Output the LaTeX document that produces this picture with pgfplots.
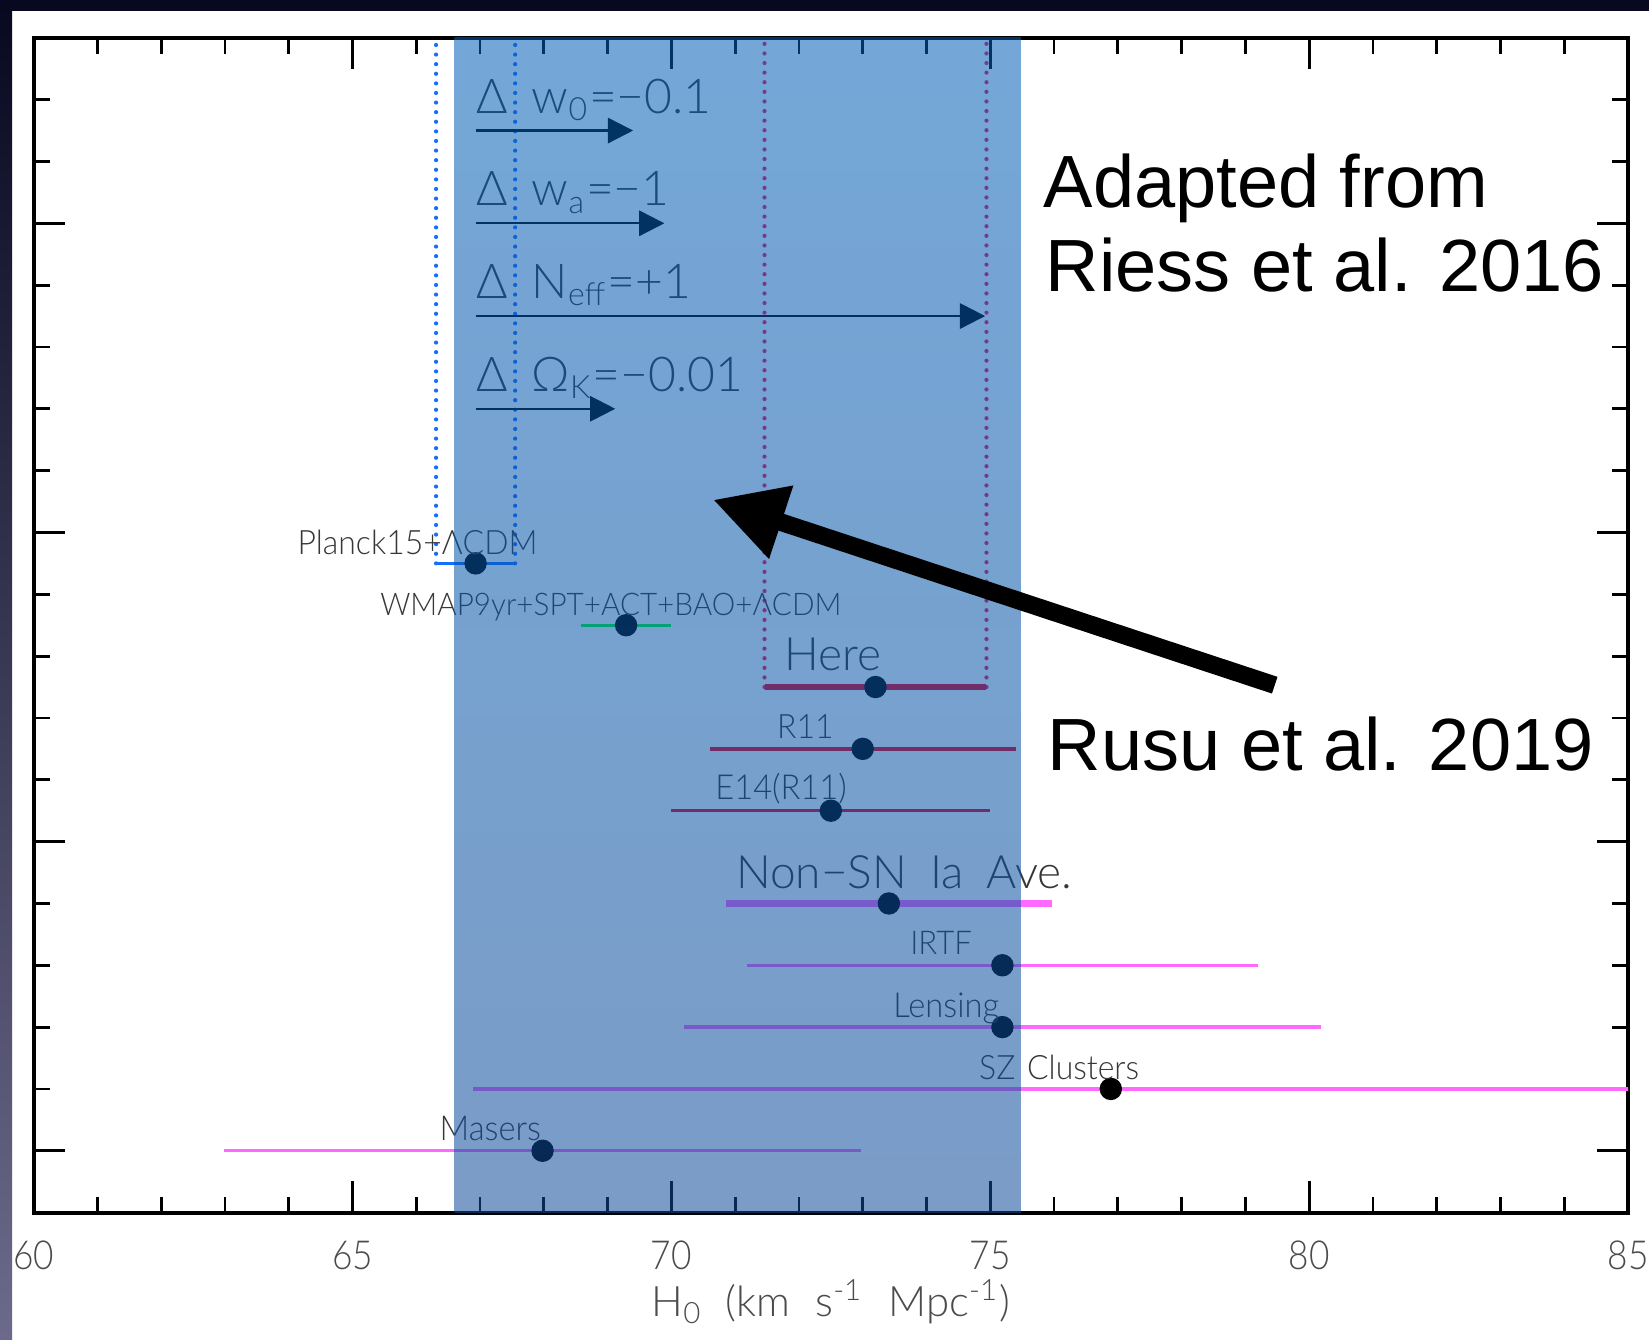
\documentclass[border=0pt]{standalone}
\usepackage{pgfplots}
\pgfplotsset{compat=1.18}
\usepackage{fontspec}
\usetikzlibrary{arrows.meta}
\setmainfont{Liberation Sans}
\newfontfamily\idl{Lato Light}[FakeStretch=0.88]
\newfontfamily\idls{Lato Light}[FakeStretch=0.95]
\newfontfamily\idlw{Lato Light}

\definecolor{labelgrey}{RGB}{55,55,55}
\definecolor{tickgrey}{RGB}{75,75,75}
\definecolor{bandtop}{RGB}{2,95,184}
\definecolor{bandbot}{RGB}{13,75,153}
\definecolor{pinkbar}{RGB}{255,105,255}
\definecolor{redbar}{RGB}{240,0,30}
\definecolor{reddot}{RGB}{255,20,80}
\definecolor{greenbar}{RGB}{0,255,50}
\definecolor{bluebar}{RGB}{20,110,255}
\definecolor{navytop}{RGB}{8,8,32}
\definecolor{navybot}{RGB}{108,106,138}

\newcommand\lab[1]{\idl\fontsize{#1}{#1}\selectfont}
\newcommand\labs[1]{\idls\fontsize{#1}{#1}\selectfont}
\newcommand\labw[1]{\idlw\fontsize{#1}{#1}\selectfont}

\begin{document}
\begin{tikzpicture}
\fill[white] (0,0) rectangle (412.25pt,334.75pt);

\begin{axis}[
  at={(8.41pt,31.6pt)}, anchor=south west,
  scale only axis, width=398.6pt, height=293.7pt,
  xmin=60, xmax=85, ymin=0, ymax=19,
  axis line style={line width=1pt, black},
  major tick length=7.8pt, minor tick length=4pt,
  every tick/.style={black, line width=0.7pt},
  tick align=inside,
  xtick={60,65,70,75,80,85},
  xticklabels={60,65,70,75,80,85},
  minor xtick={61,62,63,64,66,67,68,69,71,72,73,74,76,77,78,79,81,82,83,84},
  ytick={1,6,11,16}, yticklabels={},
  minor ytick={2,3,4,5,7,8,9,10,12,13,14,15,17,18},
  xticklabel style={font=\lab{10}, text=tickgrey, anchor=base, yshift=-14.2pt},
  xlabel={H\textsubscript{0}\hspace{0.55em}(km\hspace{0.6em}s\textsuperscript{-1}\hspace{0.6em}Mpc\textsuperscript{-1})},
  xlabel style={font=\labw{10.5}, text=tickgrey, at={(axis description cs:0.5,0)}, anchor=base, yshift=-26pt},
  clip=true, clip marker paths=true,
]

% dotted guides from the Planck and local bars up to the top
\pgfplotsset{guide/.style={line width=1.05pt, line cap=round, dash pattern=on 0pt off 2.4pt}}
\addplot[guide, bluebar] coordinates {(66.31,10.5) (66.31,19)};
\addplot[guide, bluebar] coordinates {(67.55,10.5) (67.55,19)};
\addplot[guide, reddot] coordinates {(71.46,8.5) (71.46,19)};
\addplot[guide, reddot] coordinates {(74.94,8.5) (74.94,19)};

% measurements with their uncertainties
\pgfplotsset{hpt/.style={only marks, mark=*, mark size=2.6pt,
  mark options={fill=black, draw=black},
  error bars/.cd, x dir=both, x explicit, error mark=none}}

\addplot[hpt, error bar style={line width=0.75pt, bluebar}]
  coordinates {(66.93,10.5) +- (0.62,0)};
\addplot[hpt, error bar style={line width=0.8pt, greenbar}]
  coordinates {(69.29,9.5) +- (0.70,0)};
\addplot[hpt, error bar style={line width=1.5pt, redbar}]
  coordinates {(73.20,8.5) +- (1.74,0)};
\addplot[hpt, error bar style={line width=0.85pt, redbar}]
  coordinates {(73.00,7.5) +- (2.40,0)};
\addplot[hpt, error bar style={line width=0.85pt, redbar}]
  coordinates {(72.50,6.5) +- (2.50,0)};
\addplot[hpt, error bar style={line width=1.6pt, pinkbar}]
  coordinates {(73.41,5) +- (2.55,0)};
\addplot[hpt, error bar style={line width=0.85pt, pinkbar}]
  coordinates {(75.19,4) +- (4.01,0)};
\addplot[hpt, error bar style={line width=0.85pt, pinkbar}]
  coordinates {(75.19,3) +- (4.99,0)};
\addplot[hpt, error bar style={line width=0.85pt, pinkbar}]
  coordinates {(76.89,2) +- (10.0,0)};
\addplot[hpt, error bar style={line width=0.85pt, pinkbar}]
  coordinates {(67.98,1) +- (5.0,0)};

% shifts of H0 for changed cosmological parameters
\pgfplotsset{shift/.style={black, line width=0.6pt, -{Triangle[length=6.3pt,width=6.3pt]}}}
\addplot[shift] coordinates {(66.93,17.5) (69.40,17.5)};
\addplot[shift] coordinates {(66.93,16.0) (69.89,16.0)};
\addplot[shift] coordinates {(66.93,14.5) (74.92,14.5)};
\addplot[shift] coordinates {(66.93,13.0) (69.12,13.0)};

\begin{scope}[every node/.style={inner sep=0pt, text=labelgrey}]
\node[anchor=base west, font=\labw{12}] at (axis cs:66.93,17.78) {Δ\hspace{0.5em}w\textsubscript{0}=−0.1};
\node[anchor=base west, font=\labw{12}] at (axis cs:66.93,16.28) {Δ\hspace{0.5em}w\textsubscript{a}=−1};
\node[anchor=base west, font=\labw{12}] at (axis cs:66.93,14.78) {Δ\hspace{0.5em}N\textsubscript{eff}=+1};
\node[anchor=base west, font=\labw{12}] at (axis cs:66.93,13.28) {Δ\hspace{0.5em}Ω\textsubscript{K}=−0.01};

\node[anchor=base, font=\labs{8.4}] at (axis cs:66.02,10.65) {Planck15+ΛCDM};
\node[anchor=base, font=\labs{7.8}] at (axis cs:69.05,9.66) {WMAP9yr+SPT+ACT+BAO+ΛCDM};
\node[anchor=base, font=\labw{11.5}] at (axis cs:72.53,8.76) {Here};
\node[anchor=base, font=\labs{8.4}] at (axis cs:72.10,7.67) {R11};
\node[anchor=base, font=\labs{8.6}] at (axis cs:71.72,6.68) {E14(R11)};
\node[anchor=base, font=\labw{11.5}] at (axis cs:73.65,5.24) {Non−SN\hspace{0.5em}Ia\hspace{0.5em}Ave.};
\node[anchor=base, font=\labs{8.2}] at (axis cs:74.23,4.17) {IRTF};
\node[anchor=base, font=\labs{8.6}] at (axis cs:74.31,3.16) {Lensing};
\node[anchor=base, font=\labs{8.4}] at (axis cs:76.08,2.16) {SZ\hspace{0.35em}Clusters};
\node[anchor=base, font=\labs{8.6}] at (axis cs:67.16,1.16) {Masers};
\end{scope}

% translucent highlight band
\shade[top color=bandtop, bottom color=bandbot, fill opacity=0.55]
  (axis cs:66.6,0) rectangle (axis cs:75.48,19);

% pointer arrow
\draw[line width=4.4pt, -{Triangle[length=18pt,width=18pt]}]
  (axis cs:79.46,8.53) -- (axis cs:70.65,11.53);
\end{axis}

\begin{scope}[x=0.25pt, y=-0.25pt, shift={(0pt,334.75pt)}]
\node[anchor=base west, inner sep=0pt, font=\fontsize{18.5}{22}\selectfont] at (1043,207.2) {Adapted from};
\node[anchor=base west, inner sep=0pt, font=\fontsize{18.5}{22}\selectfont] at (1045,291.3) {Riess et al. 2016};
\node[anchor=base west, inner sep=0pt, font=\fontsize{18.5}{22}\selectfont] at (1047,770.9) {Rusu et al. 2019};

% dark slide frame along the top and left
\shade[top color=navytop, bottom color=navybot] (0,0) rectangle (12,1339);
\fill[navytop] (0,0) rectangle (1649,11);

\pgfresetboundingbox
\useasboundingbox (0,0) rectangle (1649,1339);
\end{scope}
\end{tikzpicture}
\end{document}
